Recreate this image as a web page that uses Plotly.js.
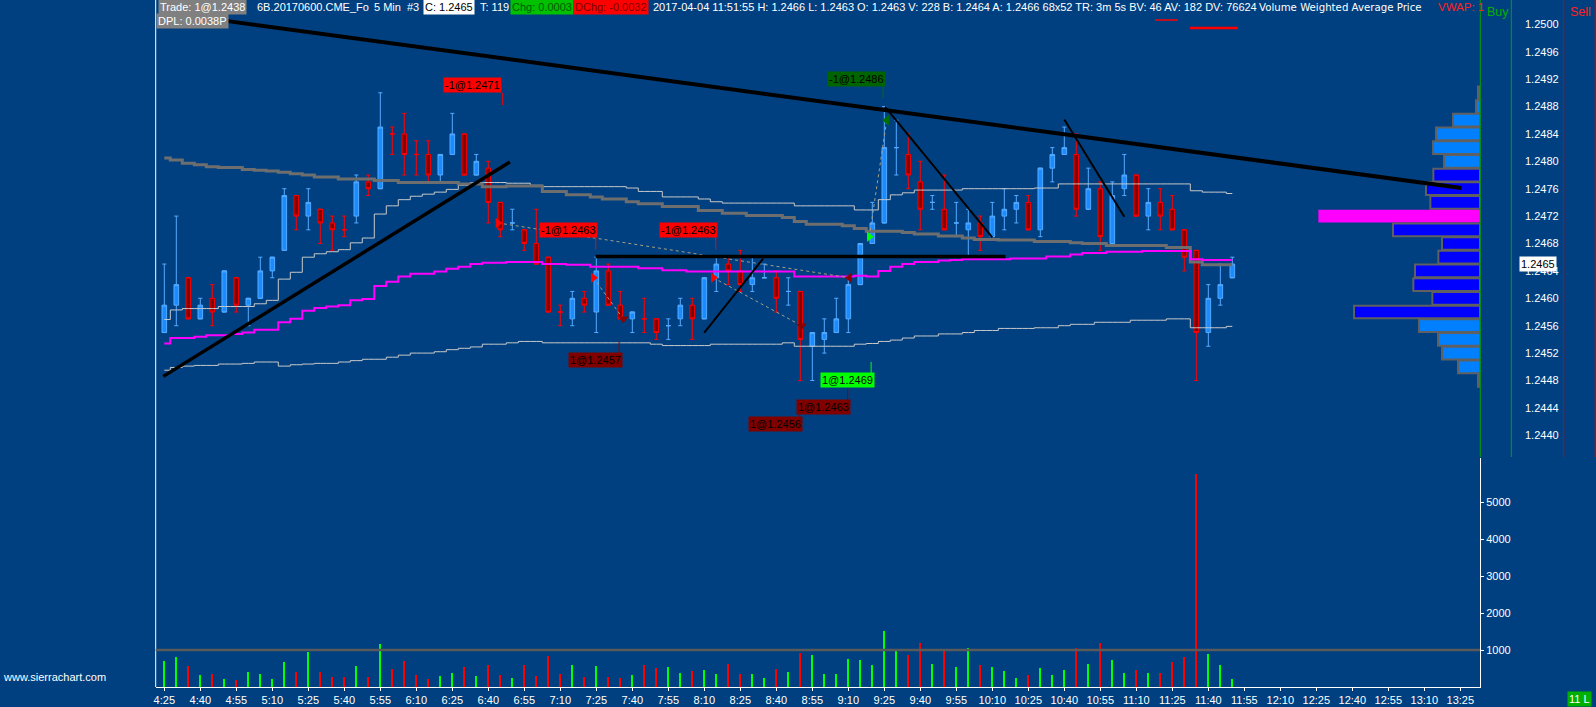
<!DOCTYPE html>
<html><head><meta charset="utf-8">
<script src="https://cdn.plot.ly/plotly-3.0.1.min.js"></script>
<style>html,body{margin:0;padding:0;background:#004080;overflow:hidden}</style>
</head><body><div id="chart" style="width:1596px;height:707px"></div>
<script>
// ---------------- DATA ----------------
const day = '2017-04-04';
const times = ['4:25','4:30','4:35','4:40','4:45','4:50','4:55','5:00','5:05','5:10','5:15','5:20','5:25','5:30','5:35','5:40','5:45','5:50','5:55','6:00','6:05','6:10','6:15','6:20','6:25','6:30','6:35','6:40','6:45','6:50',
'6:55','7:00','7:05','7:10','7:15','7:20','7:25','7:30','7:35','7:40','7:45','7:50','7:55','8:00','8:05','8:10','8:15','8:20','8:25','8:30','8:35','8:40','8:45','8:50','8:55','9:00','9:05','9:10','9:15','9:20',
'9:25','9:30','9:35','9:40','9:45','9:50','9:55','10:00','10:05','10:10','10:15','10:20','10:25','10:30','10:35','10:40','10:45','10:50','10:55','11:00','11:05','11:10','11:15','11:20','11:25','11:30','11:35','11:40','11:45','11:50'];
const open  = [1.2455,1.2459,1.2463,1.2457,1.2460,1.2458,1.2463,1.2459,1.2460,1.2464,1.2467,1.2475,1.2472,1.2473,1.2471,1.2470,1.2472,1.2477,1.2476,1.2484,1.2484,1.2481,1.2481,1.2478,1.2481,1.2484,1.2478,1.2479,1.2474,1.2471,
1.2470,1.2468,1.2466,1.2458,1.2457,1.2460,1.2458,1.2464,1.2459,1.2457,1.2457,1.2457,1.2456,1.2457,1.2459,1.2457,1.2463,1.2465,1.2464,1.2462,1.2463,1.2463,1.2461,1.2461,1.2453,1.2454,1.2455,1.2457,1.2462,1.2468,
1.2471,1.2482,1.2481,1.2477,1.2474,1.2473,1.2471,1.2470,1.2471,1.2469,1.2472,1.2473,1.2474,1.2470,1.2479,1.2481,1.2481,1.2473,1.2476,1.2468,1.2476,1.2478,1.2472,1.2474,1.2473,1.2470,1.2467,1.2455,1.2460,1.2463];
const high  = [1.2465,1.2472,1.2463,1.2460,1.2462,1.2464,1.2463,1.2460,1.2466,1.2466,1.2476,1.2475,1.2476,1.2473,1.2472,1.2472,1.2478,1.2478,1.2490,1.2485,1.2487,1.2483,1.2483,1.2481,1.2487,1.2484,1.2481,1.2480,1.2474,1.2473,
1.2470,1.2473,1.2466,1.2459,1.2461,1.2461,1.2466,1.2465,1.2461,1.2458,1.2460,1.2457,1.2457,1.2460,1.2460,1.2463,1.2466,1.2466,1.2467,1.2466,1.2465,1.2464,1.2463,1.2461,1.2455,1.2457,1.2460,1.2463,1.2468,1.2474,
1.2488,1.2486,1.2484,1.2480,1.2475,1.2478,1.2474,1.2473,1.2472,1.2474,1.2476,1.2475,1.2475,1.2479,1.2482,1.2485,1.2484,1.2479,1.2477,1.2477,1.2481,1.2478,1.2476,1.2476,1.2475,1.2470,1.2467,1.2462,1.2465,1.2466];
const low   = [1.2455,1.2456,1.2457,1.2457,1.2456,1.2458,1.2458,1.2456,1.2460,1.2463,1.2467,1.2470,1.2470,1.2468,1.2467,1.2469,1.2471,1.2475,1.2476,1.2481,1.2478,1.2478,1.2477,1.2477,1.2481,1.2478,1.2478,1.2471,1.2469,1.2470,
1.2467,1.2465,1.2458,1.2456,1.2456,1.2458,1.2455,1.2459,1.2457,1.2455,1.2455,1.2454,1.2454,1.2456,1.2454,1.2457,1.2461,1.2462,1.2461,1.2461,1.2463,1.2458,1.2459,1.2448,1.2448,1.2452,1.2455,1.2455,1.2462,1.2468,
1.2471,1.2478,1.2476,1.2470,1.2473,1.2470,1.2469,1.2466,1.2467,1.2469,1.2470,1.2471,1.2470,1.2469,1.2477,1.2481,1.2472,1.2473,1.2467,1.2468,1.2475,1.2472,1.2470,1.2470,1.2470,1.2464,1.2448,1.2453,1.2459,1.2463];
const close = [1.2459,1.2462,1.2457,1.2459,1.2458,1.2464,1.2459,1.2460,1.2464,1.2466,1.2475,1.2472,1.2474,1.2471,1.2470,1.2470,1.2477,1.2476,1.2485,1.2484,1.2481,1.2481,1.2478,1.2481,1.2484,1.2478,1.2480,1.2474,1.2470,1.2471,
1.2468,1.2465,1.2458,1.2458,1.2460,1.2459,1.2464,1.2459,1.2457,1.2458,1.2457,1.2455,1.2456,1.2459,1.2457,1.2463,1.2465,1.2464,1.2462,1.2463,1.2463,1.2460,1.2461,1.2454,1.2455,1.2455,1.2457,1.2462,1.2468,1.2471,
1.2482,1.2482,1.2478,1.2473,1.2474,1.2470,1.2471,1.2471,1.2469,1.2472,1.2473,1.2474,1.2470,1.2479,1.2481,1.2482,1.2473,1.2476,1.2469,1.2475,1.2478,1.2472,1.2474,1.2472,1.2470,1.2466,1.2455,1.2460,1.2462,1.2465];
// bar colour: u = blue (up), d = red (down)
const dir = ['u','u','d','u','d','u','d','u','u','u','u','d','u','d','d','d','u','d','u','d','d','d','d','u','u','d','u','d','d','u',
'd','d','d','d','u','d','u','d','d','u','d','d','u','u','d','u','u','d','d','u','u','d','u','d','u','u','u','u','u','u',
'u','u','d','d','u','d','u','u','d','u','u','u','d','u','u','u','d','u','d','u','u','d','u','d','d','d','d','u','u','u'];
const volume = [705,812,571,330,357,223,196,411,357,223,679,411,946,411,277,277,571,277,1161,491,705,330,223,304,384,545,304,598,330,250,
598,304,839,357,598,277,571,277,250,330,598,518,545,384,438,464,357,625,357,357,250,482,411,920,866,357,357,759,732,598,
1509,973,866,1188,625,973,545,1054,598,545,438,250,330,518,330,464,1054,625,1188,732,384,464,384,384,679,813,5760,893,598,228];
const volumeRefLevel = 1000;
// VWAP study (magenta) and its bands (light grey), plus the grey step average
const vwap = [1.24534,1.24542,1.24542,1.24544,1.24546,1.24546,1.24548,1.24550,1.24554,1.24554,1.24565,1.24570,1.24582,1.24586,1.24588,1.24590,1.24597,1.24599,1.24618,1.24624,1.24632,1.24636,1.24636,1.24639,1.24643,1.24646,1.24650,1.24652,1.24652,1.24653,
1.24653,1.24653,1.24650,1.24650,1.24649,1.24649,1.24646,1.24646,1.24646,1.24646,1.24644,1.24644,1.24641,1.24641,1.24639,1.24639,1.24639,1.24639,1.24639,1.24639,1.24639,1.24639,1.24639,1.24632,1.24632,1.24632,1.24632,1.24632,1.24633,1.24632,
1.24640,1.24646,1.24650,1.24653,1.24653,1.24655,1.24656,1.24657,1.24657,1.24657,1.24657,1.24658,1.24658,1.24658,1.24661,1.24661,1.24664,1.24666,1.24666,1.24668,1.24668,1.24668,1.24669,1.24669,1.24669,1.24669,1.24657,1.24656,1.24656,1.24656];
const upperBand = [1.24569,1.24583,1.24585,1.24585,1.24585,1.24588,1.24588,1.24588,1.24592,1.24597,1.24628,1.24638,1.24660,1.24665,1.24668,1.24671,1.24681,1.24688,1.24723,1.24735,1.24744,1.24749,1.24752,1.24755,1.24759,1.24765,1.24769,1.24769,1.24769,1.24768,
1.24768,1.24765,1.24763,1.24763,1.24763,1.24763,1.24763,1.24763,1.24763,1.24761,1.24756,1.24756,1.24748,1.24748,1.24748,1.24745,1.24741,1.24739,1.24739,1.24739,1.24739,1.24739,1.24739,1.24735,1.24735,1.24735,1.24735,1.24735,1.24729,1.24729,
1.24744,1.24751,1.24754,1.24758,1.24758,1.24758,1.24758,1.24760,1.24760,1.24760,1.24760,1.24760,1.24760,1.24761,1.24761,1.24767,1.24767,1.24767,1.24767,1.24767,1.24767,1.24767,1.24767,1.24767,1.24767,1.24767,1.24757,1.24755,1.24755,1.24753];
const lowerBand = [1.24495,1.24499,1.24501,1.24502,1.24502,1.24504,1.24504,1.24505,1.24507,1.24507,1.24501,1.24503,1.24504,1.24505,1.24505,1.24507,1.24509,1.24511,1.24511,1.24514,1.24517,1.24520,1.24520,1.24522,1.24525,1.24527,1.24529,1.24533,1.24533,1.24535,
1.24537,1.24537,1.24535,1.24535,1.24535,1.24535,1.24535,1.24535,1.24535,1.24535,1.24535,1.24533,1.24531,1.24531,1.24531,1.24531,1.24533,1.24533,1.24533,1.24533,1.24533,1.24533,1.24535,1.24530,1.24530,1.24530,1.24530,1.24530,1.24533,1.24534,
1.24537,1.24539,1.24542,1.24545,1.24545,1.24548,1.24548,1.24550,1.24553,1.24553,1.24556,1.24556,1.24556,1.24557,1.24557,1.24560,1.24562,1.24562,1.24565,1.24565,1.24565,1.24568,1.24568,1.24568,1.24570,1.24570,1.24557,1.24557,1.24557,1.24559];
const stepAverage = [1.24805,1.24802,1.24797,1.24795,1.24792,1.24791,1.24791,1.24788,1.24787,1.24786,1.24784,1.24782,1.24780,1.24777,1.24777,1.24774,1.24774,1.24774,1.24772,1.24772,1.24769,1.24769,1.24769,1.24769,1.24769,1.24767,1.24767,1.24763,1.24763,1.24764,
1.24764,1.24764,1.24756,1.24756,1.24751,1.24751,1.24748,1.24745,1.24745,1.24741,1.24738,1.24738,1.24734,1.24734,1.24734,1.24728,1.24728,1.24724,1.24724,1.24721,1.24721,1.24721,1.24718,1.24712,1.24708,1.24708,1.24708,1.24706,1.24702,1.24698,
1.24698,1.24698,1.24696,1.24694,1.24694,1.24691,1.24691,1.24688,1.24686,1.24686,1.24685,1.24685,1.24685,1.24683,1.24683,1.24683,1.24681,1.24680,1.24680,1.24677,1.24677,1.24677,1.24677,1.24677,1.24674,1.24674,1.24653,1.24649,1.24649,1.24649];
// volume profile
const profilePrice  = [1.2490,1.2488,1.2486,1.2484,1.2482,1.2480,1.2478,1.2476,1.2474,1.2472,1.2470,1.2468,1.2466,1.2464,1.2462,1.2460,1.2458,1.2456,1.2454,1.2452,1.2450,1.2448];
const profileVolume = [60,120,810,1320,1410,1080,1400,1620,1490,4850,2610,1140,1250,1950,2000,1430,3780,1830,1260,1140,660,60];
const pocPrice = 1.2472, valueAreaHigh = 1.2478, valueAreaLow = 1.2458;
// drawn trend lines
const trendStartTime  = ['04:50:42','04:24:35','07:24:45','08:10:00','09:25:15','10:40:00'];
const trendStartPrice = [1.25005,1.24486,1.24661,1.24550,1.24880,1.24861];
const trendEndTime    = ['13:25:30','06:49:00','10:15:30','08:34:30','10:10:00','11:05:00'];
const trendEndPrice   = [1.24761,1.24799,1.24661,1.24658,1.24689,1.24719];
// trades
const entryTime  = ['06:44:00','07:23:45','08:13:45','09:18:45'];
const entryPrice = [1.2471,1.2463,1.2463,1.2469];
const exitTime   = ['09:10:30','07:36:15','08:50:30','09:26:00'];
const exitPrice  = [1.2463,1.2457,1.2456,1.2486];
const labelText  = ['-1@1.2471','-1@1.2463','-1@1.2463','1@1.2457','1@1.2469','1@1.2463','1@1.2456','-1@1.2486'];
const labelKind  = ['sell','sell','sell','cover','buy','cover','cover','exit'];
const labelTime  = ['06:33:35','07:13:35','08:03:35','07:24:30','09:09:30','08:59:30','08:39:30','09:13:30'];
const labelPrice = [1.24911,1.24699,1.24699,1.24510,1.24480,1.24441,1.24417,1.24920];
const stubTime   = ['06:46:00','07:24:45','08:14:45','07:34:30','09:19:30','09:09:45','08:49:30','09:24:30'];
const stubFrom   = [1.24900,1.24690,1.24690,1.24537,1.24507,1.24469,1.24442,1.24910];
const stubTo     = [1.24882,1.24671,1.24671,1.24520,1.24489,1.24449,1.24425,1.24892];
// axis ticks
const priceTicks = ['1.2440','1.2444','1.2448','1.2452','1.2456','1.2460','1.2464','1.2468','1.2472','1.2476','1.2480','1.2484','1.2488','1.2492','1.2496','1.2500'];
const volumeTicks = [1000,2000,3000,4000,5000];
const timeTicks = ['4:25','4:40','4:55','5:10','5:25','5:40','5:55','6:10','6:25','6:40','6:55','7:10','7:25','7:40','7:55','8:10','8:25','8:40','8:55','9:10','9:25','9:40','9:55','10:10','10:25','10:40','10:55','11:10','11:25','11:40','11:55','12:10','12:25','12:40','12:55','13:10','13:25'];
const priceRange = [1.243683, 1.250355];
const timeRange = ['04:21:25','13:33:12'];
const volumeMax = 6190;

// ---------------- HELPERS ----------------
const W = 1596, H = 707;
const pad = t => (t.split(':')[0].length === 1 ? '0' + t : t);
const T = t => day + ' ' + pad(t);
const fx = x => x / W;
const fy = y => 1 - y / H;
const FONT = 'Liberation Sans, Arial, sans-serif';
const X0 = 155.7, X1 = 1480;

const X = times.map(T);
const idxU = [], idxD = [];
dir.forEach((d, i) => (d === 'u' ? idxU : idxD).push(i));
const pick = (arr, idx) => idx.map(i => arr[i]);

const BLUE_FILL = '#1a8cff', BLUE_LINE = '#55aaff', RED_FILL = '#800000', RED_LINE = '#ff0000';

const traces = [];
const stepLine = (y, color, width) => ({type: 'scatter', mode: 'lines', x: X, y: y, xaxis: 'x', yaxis: 'y',
  line: {color: color, width: width, shape: 'hvh'}, hoverinfo: 'skip', showlegend: false});
traces.push(stepLine(upperBand, '#c8c8c8', 1));
traces.push(stepLine(lowerBand, '#c8c8c8', 1));
traces.push(stepLine(stepAverage, '#6e6e6e', 3));
traces.push(stepLine(vwap, '#ff00ff', 2));

function candle(idx, fill, line) {
  return {type: 'candlestick', x: pick(X, idx), open: pick(open, idx), high: pick(high, idx), low: pick(low, idx), close: pick(close, idx),
    xaxis: 'x', yaxis: 'y', whiskerwidth: 0.9,
    increasing: {fillcolor: fill, line: {color: line, width: 1}},
    decreasing: {fillcolor: fill, line: {color: line, width: 1}},
    hoverinfo: 'skip', showlegend: false};
}
traces.push(candle(idxD, RED_FILL, RED_LINE));
traces.push(candle(idxU, BLUE_FILL, BLUE_LINE));

entryTime.forEach((t, k) => {
  traces.push({type: 'scatter', mode: 'lines', x: [T(t), T(exitTime[k])], y: [entryPrice[k], exitPrice[k]],
    xaxis: 'x', yaxis: 'y', line: {color: '#a89e84', width: 1, dash: 'dot'}, hoverinfo: 'skip', showlegend: false});
});
const kindColor = {sell: '#ff0000', cover: '#8b0000', buy: '#00ff00', exit: '#007000'};
traces.push({type: 'scatter', mode: 'markers', x: entryTime.map(T), y: entryPrice, xaxis: 'x', yaxis: 'y',
  marker: {symbol: 'triangle-right', size: 9, color: ['#ff0000', '#ff0000', '#ff0000', '#00ff00']}, hoverinfo: 'skip', showlegend: false});
traces.push({type: 'scatter', mode: 'markers', x: exitTime.map(T), y: exitPrice, xaxis: 'x', yaxis: 'y',
  marker: {symbol: ['triangle-left', 'triangle-down', 'triangle-down', 'triangle-left'], size: 9, color: ['#8b0000', '#8b0000', '#8b0000', '#007000']}, hoverinfo: 'skip', showlegend: false});

traces.push({type: 'bar', orientation: 'h', y: profilePrice, x: profileVolume, xaxis: 'x3', yaxis: 'y', width: 0.000186,
  marker: {color: profilePrice.map(p => Math.abs(p - pocPrice) < 1e-6 ? '#ff00ff' : (p <= valueAreaHigh + 1e-6 && p >= valueAreaLow - 1e-6 ? '#0000ff' : '#0080ff')),
    line: {color: '#606060', width: profilePrice.map(p => Math.abs(p - pocPrice) < 1e-6 ? 0 : 2)}},
  hoverinfo: 'skip', showlegend: false});

traces.push({type: 'bar', x: X, y: volume, xaxis: 'x', yaxis: 'y2', width: 50000,
  marker: {color: dir.map(d => d === 'u' ? '#00ff00' : '#ff0000'), line: {width: 0}}, hoverinfo: 'skip', showlegend: false});

// ---------------- SHAPES ----------------
const shapes = [];
const vline = (x, y0, y1, color, w) => shapes.push({type: 'line', xref: 'paper', yref: 'paper', x0: fx(x), x1: fx(x), y0: fy(y0), y1: fy(y1), line: {color: color, width: w}});
vline(X0, 0, 687, '#ffffff', 1);
vline(1480.3, 0, 457, '#00a000', 1);
vline(1511.3, 0, 457, '#00a000', 1);
vline(1563.7, 0, 457, '#d00000', 1);
vline(1595.3, 0, 457, '#d00000', 1);
shapes.push({type: 'line', xref: 'paper', yref: 'y2', x0: fx(X0), x1: fx(X1), y0: volumeRefLevel, y1: volumeRefLevel, line: {color: '#5a5a5a', width: 2.5}});
const trendWidth = [4, 3.5, 3.5, 2, 2, 2];
trendStartTime.forEach((t, k) => shapes.push({type: 'line', xref: 'x', yref: 'y', x0: T(t), y0: trendStartPrice[k], x1: T(trendEndTime[k]), y1: trendEndPrice[k], line: {color: '#000000', width: trendWidth[k]}}));
stubTime.forEach((t, k) => shapes.push({type: 'line', xref: 'x', yref: 'y', x0: T(t), x1: T(t), y0: stubFrom[k], y1: stubTo[k], line: {color: kindColor[labelKind[k]], width: 1}}));
shapes.push({type: 'line', xref: 'paper', yref: 'paper', x0: fx(1155), x1: fx(1178), y0: fy(20), y1: fy(20), line: {color: '#ff0000', width: 1.5}});
shapes.push({type: 'line', xref: 'paper', yref: 'paper', x0: fx(1190), x1: fx(1238), y0: fy(28), y1: fy(28), line: {color: '#ff0000', width: 2.5}});

// ---------------- ANNOTATIONS ----------------
const ann = [];
const txt = (x, y, text, color, bg, size, family) => ann.push({xref: 'paper', yref: 'paper', x: fx(x), y: fy(y), xanchor: 'left', yanchor: 'middle',
  text: text, showarrow: false, font: {family: family || FONT, size: size || 11, color: color || '#ffffff'}, bgcolor: bg || 'rgba(0,0,0,0)', borderpad: 1});
txt(158, 7, 'Trade: 1@1.2438', '#ffffff', '#808080');
txt(255, 7, '6B.20170600.CME_Fo');
txt(372, 7, '5 Min');
txt(405, 7, '#3');
txt(423, 7, 'C: ' + close[close.length - 1].toFixed(4), '#000000', '#ffffff');
txt(478, 7, 'T: 119');
txt(510, 7, 'Chg: 0.0003', '#005a00', '#00c000');
txt(573, 7, 'DChg: -0.0032', '#7a0000', '#ff0000');
txt(651, 7, '2017-04-04 11:51:55 H: 1.2466 L: 1.2463');
txt(855, 7, 'O: 1.2463 V: 228 B: 1.2464 A: 1.2466 68x52 TR: 3m 5s BV: 46 AV: 182 DV: 76624');
txt(1257, 7, 'Volume Weighted Average Price', '#ffffff', null, 10.2, 'DejaVu Sans, Verdana, sans-serif');
txt(1436, 7, 'VWAP: 1', '#ff2020', null, 11.5);
txt(156, 21, 'DPL: 0.0038P', '#ffffff', '#808080');
txt(1485, 12, 'Buy', '#00b000', null, 12.5);
txt(1568, 12, 'Sell', '#ff2020', null, 12.5);
txt(1, 677, 'www.sierrachart.com');
txt(1567, 699, '11 L', '#ffffff', '#00b000');
ann.push({xref: 'paper', yref: 'y', x: fx(1519), y: close[close.length - 1], xanchor: 'left', yanchor: 'middle', text: close[close.length - 1].toFixed(4),
  showarrow: false, font: {family: FONT, size: 11, color: '#000000'}, bgcolor: '#ffffff', borderpad: 1});
const labelBg = {sell: '#ff0000', cover: '#800000', buy: '#00ff00', exit: '#006400'};
labelText.forEach((t, k) => ann.push({xref: 'x', yref: 'y', x: T(labelTime[k]), y: labelPrice[k], xanchor: 'center', yanchor: 'middle', text: t,
  showarrow: false, font: {family: FONT, size: 11, color: '#000000'}, bgcolor: labelBg[labelKind[k]], borderpad: 1}));

// ---------------- LAYOUT ----------------
const layout = {
  width: W, height: H, margin: {l: 0, r: 0, t: 0, b: 0},
  paper_bgcolor: '#004080', plot_bgcolor: '#004080',
  showlegend: false, boxgap: 0.45, bargap: 0, hovermode: false,
  font: {family: FONT, size: 11, color: '#ffffff'},
  xaxis: {type: 'date', domain: [fx(X0), fx(X1)], range: timeRange.map(T), anchor: 'y2',
    tickvals: timeTicks.map(T), ticktext: timeTicks, ticks: 'outside', ticklen: 3, tickcolor: '#ffffff',
    showline: true, linecolor: '#ffffff', linewidth: 1, showgrid: false, zeroline: false,
    tickfont: {family: FONT, size: 11, color: '#ffffff'}, rangeslider: {visible: false}, fixedrange: true},
  xaxis3: {overlaying: 'x', anchor: 'y', range: [39737, 0], visible: false, showgrid: false, zeroline: false, fixedrange: true},
  yaxis: {domain: [250 / H, 1], range: priceRange, anchor: 'free', position: fx(1524), side: 'right',
    tickvals: priceTicks.map(Number), ticktext: priceTicks, ticks: '', showline: false, showgrid: false, zeroline: false,
    tickfont: {family: FONT, size: 11, color: '#ffffff'}, fixedrange: true},
  yaxis2: {domain: [20 / H, 249 / H], range: [0, volumeMax], anchor: 'x', side: 'right',
    tickvals: volumeTicks, ticktext: volumeTicks.map(String), ticks: 'outside', ticklen: 3, tickcolor: '#ffffff',
    showline: true, linecolor: '#ffffff', linewidth: 1, showgrid: false, zeroline: false,
    tickfont: {family: FONT, size: 11, color: '#ffffff'}, fixedrange: true},
  shapes: shapes, annotations: ann
};
Plotly.newPlot('chart', traces, layout, {displayModeBar: false, staticPlot: true});
</script></body></html>
